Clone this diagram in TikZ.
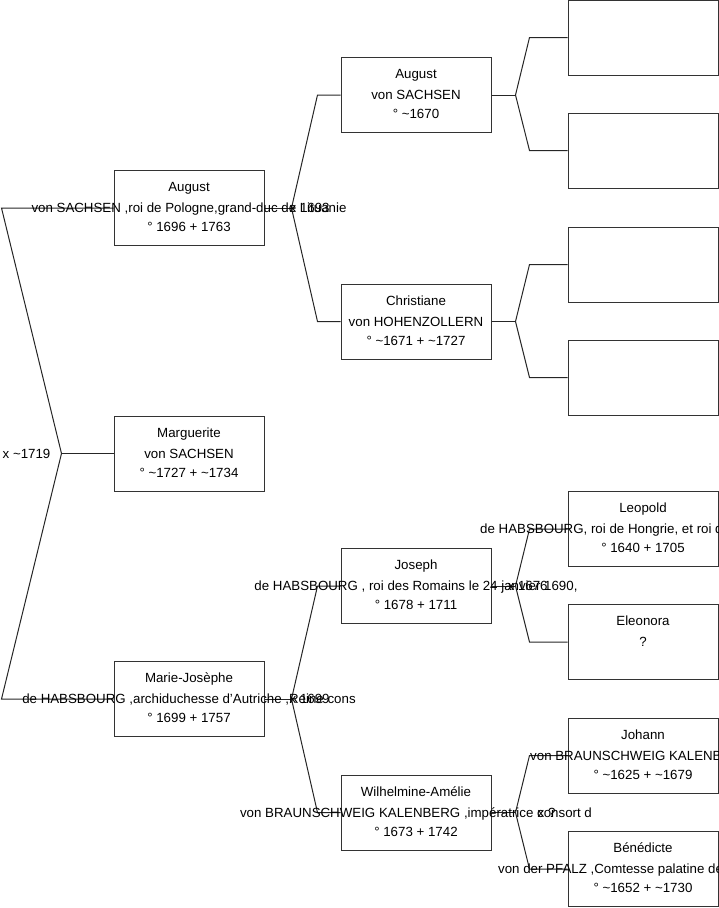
\documentclass[tikz,border=0pt]{standalone}
\usepackage{fontspec}
\setmainfont{Liberation Sans}
\newcommand\tld{\textasciitilde}
\newcommand\personlines[4]{%
  \node[txt, yshift=16.3pt] (#1-l1) at (#1.center) {#2};
  \node[txt, yshift=-4.7pt] (#1-l2) at (#1.center) {#3};
  \node[txt, yshift=-23.7pt] (#1-l3) at (#1.center) {#4};
}
\begin{document}
\begin{tikzpicture}[x=1pt,y=-1pt,
  box/.style={draw=black!80, line width=1pt, minimum width=150pt, minimum height=75pt, inner sep=0pt},
  txt/.style={font=\fontsize{13.3}{15}\selectfont, inner sep=0pt, anchor=base},
  lefttxt/.style={font=\fontsize{13.3}{15}\selectfont, inner sep=0pt, anchor=base west},
  link/.style={draw=black!85, line width=1pt},
  mar/.style={font=\fontsize{13.3}{15}\selectfont, inner sep=0pt, anchor=base west}]
\useasboundingbox (0,0) rectangle (719,908);

% boxes
\node[box] (a1) at (189,208) {};
\node[box] (a2) at (189,453.5) {};
\node[box] (a3) at (189,699) {};
\node[box] (b1) at (416,95) {};
\node[box] (b2) at (416,321.5) {};
\node[box] (b3) at (416,586) {};
\node[box] (b4) at (416,812.5) {};
\node[box] (c1) at (643,37.5) {};
\node[box] (c2) at (643,150.5) {};
\node[box] (c3) at (643,264.5) {};
\node[box] (c4) at (643,377.5) {};
\node[box] (c5) at (643,529) {};
\node[box] (c6) at (643,642) {};
\node[box] (c7) at (643,755.5) {};
\node[box] (c8) at (643,869) {};

% connectors
\draw[link] (a2.west) -- ++(-52,0) coordinate (f0);
\draw[link] (a1.west) -- ([xshift=-112pt]a1.west) -- (f0) -- ([xshift=-112pt]a3.west) -- (a3.west);

\draw[link] (a1.east) -- ++(27,0) coordinate (f1);
\draw[link] (b1.west) -- ([xshift=-23pt]b1.west) -- (f1) -- ([xshift=-23pt]b2.west) -- (b2.west);
\draw[link] (a3.east) -- ++(27,0) coordinate (f3);
\draw[link] (b3.west) -- ([xshift=-23pt]b3.west) -- (f3) -- ([xshift=-23pt]b4.west) -- (b4.west);

\draw[link] (b1.east) -- ++(24,0) coordinate (f4);
\draw[link] (c1.west) -- ([xshift=-38pt]c1.west) -- (f4) -- ([xshift=-38pt]c2.west) -- (c2.west);
\draw[link] (b2.east) -- ++(24,0) coordinate (f5);
\draw[link] (c3.west) -- ([xshift=-38pt]c3.west) -- (f5) -- ([xshift=-38pt]c4.west) -- (c4.west);
\draw[link] (b3.east) -- ++(24,0) coordinate (f6);
\draw[link] (c5.west) -- ([xshift=-38pt]c5.west) -- (f6) -- ([xshift=-38pt]c6.west) -- (c6.west);
\draw[link] (b4.east) -- ++(24,0) coordinate (f7);
\draw[link] (c7.west) -- ([xshift=-38pt]c7.west) -- (f7) -- ([xshift=-38pt]c8.west) -- (c8.west);

% marriage labels
\node[mar] (m0) at ([xshift=-59pt,yshift=-4.7pt]f0) {x \tld1719};
\node[mar] (m1) at ([xshift=-2pt,yshift=-4.7pt]f1) {x 1693};
\node[mar] (m3) at ([xshift=-2pt,yshift=-4.7pt]f3) {x 1699};
\node[mar] (m6) at ([xshift=-8pt,yshift=-4.7pt]f6) {x 1676};
\node[mar] (m7) at ([xshift=22pt,yshift=-4.7pt]f7) {x ?};

% texts
\personlines{a1}{August}{von SACHSEN ,roi de Pologne,grand-duc de Lituanie}{° 1696 + 1763}
\personlines{a2}{Marguerite}{von SACHSEN}{° \tld1727 + \tld1734}
\personlines{a3}{Marie-Josèphe}{de HABSBOURG ,archiduchesse d'Autriche ,Reine cons}{° 1699 + 1757}
\personlines{b1}{August}{von SACHSEN}{° \tld1670}
\personlines{b2}{Christiane}{von HOHENZOLLERN}{° \tld1671 + \tld1727}
\personlines{b3}{Joseph}{de HABSBOURG , roi des Romains le 24 janvier 1690,}{° 1678 + 1711}
\personlines{b4}{Wilhelmine-Amélie}{von BRAUNSCHWEIG KALENBERG ,impératrice consort d}{° 1673 + 1742}

\node[txt, yshift=16.3pt] (c5-l1) at (c5.center) {Leopold};
\node[lefttxt] (c5-l2) at (480,533.7) {de HABSBOURG, roi de Hongrie, et roi de};
\node[txt, yshift=-23.7pt] (c5-l3) at (c5.center) {° 1640 + 1705};

\node[txt, yshift=16.3pt] (c6-l1) at (c6.center) {Eleonora};
\node[txt, yshift=-4.7pt] (c6-l2) at (c6.center) {?};

\node[txt, yshift=16.3pt] (c7-l1) at (c7.center) {Johann};
\node[lefttxt] (c7-l2) at (530,760.2) {von BRAUNSCHWEIG KALENBERG};
\node[txt, yshift=-23.7pt] (c7-l3) at (c7.center) {° \tld1625 + \tld1679};

\node[txt, yshift=16.3pt] (c8-l1) at (c8.center) {Bénédicte};
\node[lefttxt] (c8-l2) at (498,873.7) {von der PFALZ ,Comtesse palatine de};
\node[txt, yshift=-23.7pt] (c8-l3) at (c8.center) {° \tld1652 + \tld1730};
\end{tikzpicture}
\end{document}
